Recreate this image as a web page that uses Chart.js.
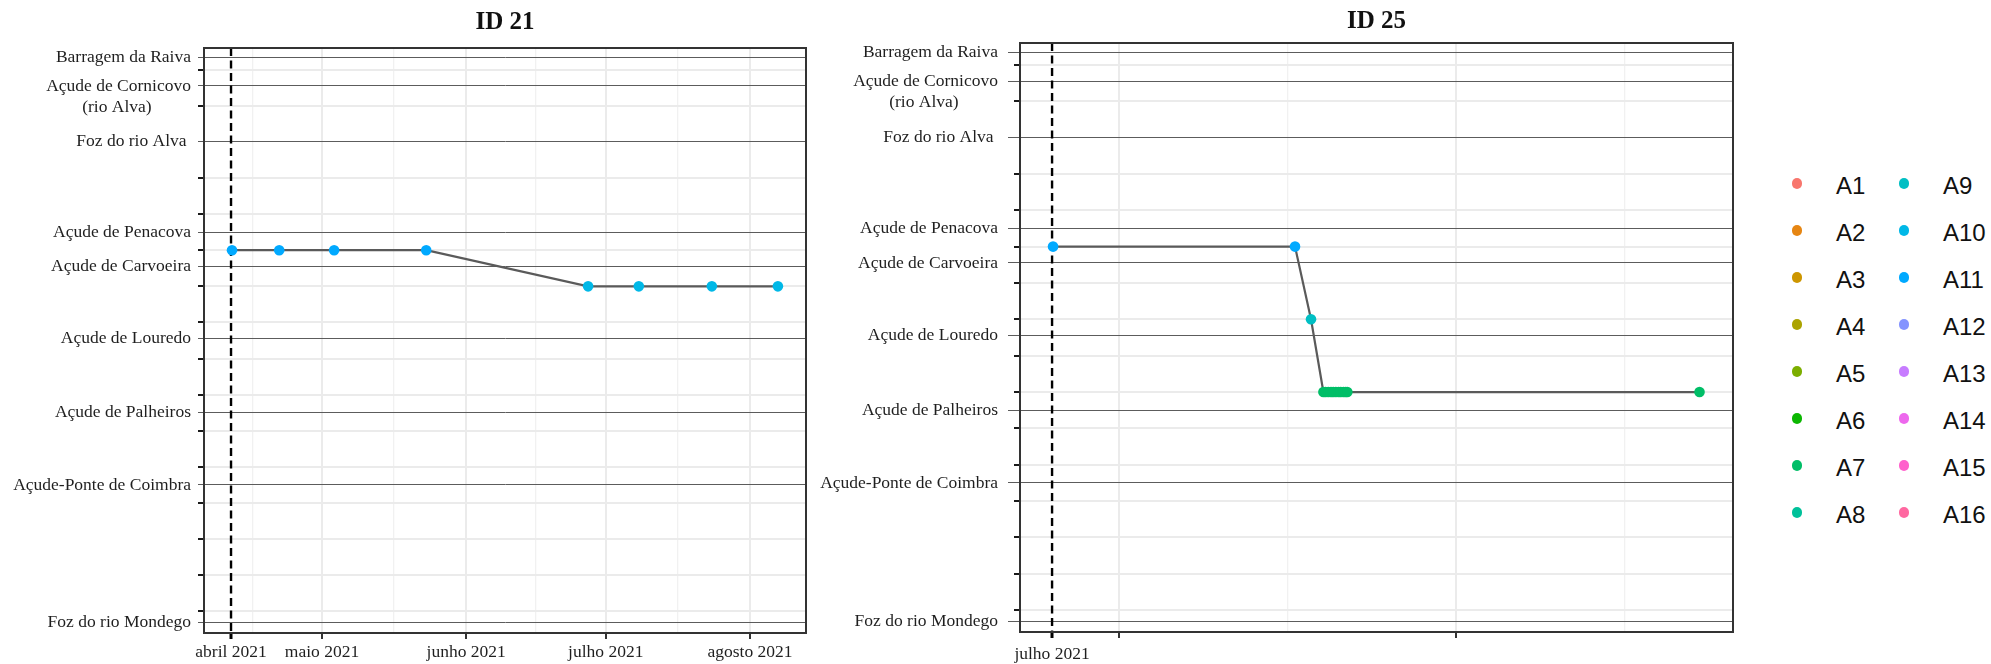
<!DOCTYPE html>
<html>
<head>
<meta charset="utf-8">
<script src="https://cdn.jsdelivr.net/npm/chart.js@4/dist/chart.umd.min.js"></script>
<style>
  html, body { margin: 0; padding: 0; background: #ffffff; overflow: hidden; }
  #wrap { position: relative; width: 1991px; height: 664px; }
  canvas { position: absolute; top: 0; }
  #c21 { left: 0px; }
  #c25 { left: 800px; }
  .legtxt { position: absolute; font-family: 'Liberation Sans', Arial, sans-serif; font-size: 24px; line-height: 24px; color: #111; white-space: nowrap; }
  .legdot { position: absolute; width: 10.6px; height: 10.6px; border-radius: 50%; }
</style>
</head>
<body>
<div id="wrap">
  <canvas id="c21" width="830" height="664"></canvas>
  <canvas id="c25" width="960" height="664"></canvas>
  <div id="legend"></div>
</div>
<script>
// ---------------- data ----------------
const groupNames  = ['A1','A2','A3','A4','A5','A6','A7','A8','A9','A10','A11','A12','A13','A14','A15','A16'];
const groupColors = ['#F8766D','#E68613','#CD9600','#ABA300','#7CAE00','#0CB702','#00BE67','#00C19A',
                     '#00BFC4','#00B8E7','#00A9FF','#8494FF','#C77CFF','#ED68ED','#FF61CC','#FF68A1'];

// antenna positions on the y scale (1..16)
const antennaTicks = [1,2,3,4,5,6,7,8,9,10,11,12,13,14,15,16];

// river sites (reference lines) and their position on the same scale
const siteNames = ['Barragem da Raiva',
                   ['', 'Açude de Cornicovo', '(rio Alva)         '],
                   'Foz do rio Alva ',
                   'Açude de Penacova',
                   'Açude de Carvoeira',
                   'Açude de Louredo',
                   'Açude de Palheiros',
                   'Açude-Ponte de Coimbra',
                   'Foz do rio Mondego'];
const sitePositions = [16.33, 15.55, 14, 11.5, 10.55, 8.55, 6.5, 4.5, 0.7];

// x values: day of year 2021 (1 Jan = 0)
// ID 21
const id21Days    = [100.65, 110.8, 122.6, 142.4, 177.2, 188.1, 203.8, 218.0];
const id21Antenna = [11, 11, 11, 11, 10, 10, 10, 10];
const id21Release = 100.44;
const id21ReleaseLabel = 'abril 2021';
const id21MonthTicks  = [120, 151, 181, 212];
const id21MonthLabels = ['maio 2021', 'junho 2021', 'julho 2021', 'agosto 2021'];
const id21MinorTicks  = [105, 135.5, 166, 196.5];
const id21XRange = [94.63, 224.04];

// ID 25
const id25Days    = [205.93, 228.19, 229.66, 230.8, 231.0, 231.25, 231.5, 231.7, 231.95, 232.2, 232.4, 232.65, 232.85, 233.0, 265.4];
const id25Antenna = [11, 11, 9, 7, 7, 7, 7, 7, 7, 7, 7, 7, 7, 7, 7];
const id25Release = 205.84;
const id25ReleaseLabel = 'julho 2021';
const id25MonthTicks  = [212, 243];
const id25MonthLabels = ['', ''];
const id25MinorTicks  = [227.5, 258.5];
const id25XRange = [202.89, 268.48];

const yRange = [0.4, 16.6];

// ---------------- helpers ----------------
const SERIF = "'Liberation Serif', 'Times New Roman', serif";
const near = (a, b) => Math.abs(a - b) < 1e-6;
const siteIndex = v => sitePositions.findIndex(p => near(p, v));

const boxPlugin = {
  id: 'panelBox',
  afterDatasetsDraw(chart) {
    const {left, top, right, bottom} = chart.chartArea;
    const ctx = chart.ctx;
    ctx.save();
    ctx.strokeStyle = '#333333';
    ctx.lineWidth = 2;
    ctx.strokeRect(left, top, right - left, bottom - top);
    ctx.restore();
  }
};

function makePanel(canvasId, p) {
  const yTickValues = Array.from(new Set(antennaTicks.concat(sitePositions))).sort((a, b) => a - b);
  const xTicks = [{value: p.release, kind: 'release', label: p.releaseLabel}]
    .concat(p.months.map((v, i) => ({value: v, kind: 'major', label: p.monthLabels[i]})))
    .concat(p.minors.map(v => ({value: v, kind: 'minor', label: ''})))
    .sort((a, b) => a.value - b.value);
  const xKind = v => { const t = xTicks.find(t => near(t.value, v)); return t ? t.kind : 'minor'; };
  const xLabel = v => { const t = xTicks.find(t => near(t.value, v)); return t ? t.label : ''; };

  const dashLen = 100;
  const extra = p.siteTickLen - p.intTickLen;

  return new Chart(document.getElementById(canvasId), {
    type: 'line',
    data: {
      datasets: [
        {
          label: p.title,
          data: p.days.map((d, i) => ({x: d, y: p.antenna[i]})),
          borderColor: '#5a5a5a',
          borderWidth: 2.2,
          pointRadius: 5.3,
          pointBorderWidth: 0,
          pointBackgroundColor: p.antenna.map(a => groupColors[a - 1]),
          pointHoverRadius: 5.3,
          tension: 0,
          xAxisID: 'x', yAxisID: 'y'
        },
        {
          label: 'release',
          data: [{x: p.release, y: yRange[1]}, {x: p.release, y: yRange[0]}],
          borderColor: '#000000',
          borderWidth: 2.4,
          borderDash: [8, 4.5],
          pointRadius: 0,
          xAxisID: 'x', yAxisID: 'y'
        }
      ]
    },
    options: {
      responsive: false,
      animation: false,
      devicePixelRatio: 1,
      events: [],
      layout: { padding: { left: 0, right: p.padRight, top: 0, bottom: 0 } },
      plugins: { legend: { display: false }, title: { display: false }, tooltip: { enabled: false } },
      scales: {
        x: {
          type: 'linear', position: 'bottom',
          min: p.xRange[0], max: p.xRange[1],
          afterBuildTicks: s => { s.ticks = xTicks.map(t => ({value: t.value})); },
          afterFit: s => { s.height = p.bottomH; },
          ticks: {
            autoSkip: false, maxRotation: 0, minRotation: 0, padding: p.xLabelPad,
            font: { family: SERIF, size: 17.5 }, color: '#1f1f1f',
            callback: v => xLabel(v)
          },
          grid: {
            drawTicks: true, tickLength: 6,
            color: c => { if (!c.tick) return '#EBEBEB'; const k = xKind(c.tick.value); return k === 'release' ? 'rgba(0,0,0,0)' : (k === 'major' ? '#EBEBEB' : '#F1F1F1'); },
            lineWidth: c => { if (!c.tick) return 2; const k = xKind(c.tick.value); return k === 'major' ? 2 : (k === 'minor' ? 1.3 : 0); },
            tickColor: c => { if (!c.tick) return '#333'; const k = xKind(c.tick.value); return k === 'release' ? '#000000' : '#333333'; },
            tickWidth: c => { if (!c.tick) return 2; const k = xKind(c.tick.value); return k === 'release' ? 3 : (k === 'major' ? 2 : 0); }
          },
          border: { display: true, color: '#222222', width: 2 }
        },
        xTitle: {
          type: 'linear', position: 'top', display: true,
          min: p.xRange[0], max: p.xRange[1],
          afterFit: s => { s.height = p.topH; },
          ticks: { display: false },
          grid: { display: false, drawTicks: false },
          border: { display: false },
          title: {
            display: true, text: p.title, color: '#111111',
            font: { family: SERIF, size: 25, weight: 'bold' },
            padding: { top: p.titlePadTop, bottom: 0 }
          }
        },
        y: {
          type: 'linear', position: 'left',
          min: yRange[0], max: yRange[1],
          afterBuildTicks: s => { s.ticks = yTickValues.map(v => ({value: v})); },
          afterFit: s => { s.width = p.yAxisW; },
          ticks: {
            autoSkip: false, padding: p.yLabelPad,
            font: { family: SERIF, size: 17.5, lineHeight: 1.2 }, color: '#1f1f1f',
            callback: v => { const i = siteIndex(v); return i >= 0 ? siteNames[i] : ''; }
          },
          grid: {
            drawTicks: true, tickLength: p.siteTickLen,
            color: c => (c.tick && siteIndex(c.tick.value) >= 0) ? '#5c5c5c' : '#EBEBEB',
            lineWidth: c => (c.tick && siteIndex(c.tick.value) >= 0) ? 1 : 2,
            tickColor: c => (c.tick && siteIndex(c.tick.value) >= 0) ? '#5c5c5c' : '#1a1a1a',
            tickWidth: c => (c.tick && siteIndex(c.tick.value) >= 0) ? 1 : 2,
            tickBorderDash: c => (c.tick && siteIndex(c.tick.value) < 0 && extra > 0) ? [p.intTickLen, dashLen] : [],
            tickBorderDashOffset: c => (c.tick && siteIndex(c.tick.value) < 0 && extra > 0) ? (p.intTickLen + dashLen - extra) : 0
          },
          border: { display: true, color: '#222222', width: 2 }
        }
      }
    },
    plugins: [boxPlugin]
  });
}

makePanel('c21', {
  title: 'ID 21', days: id21Days, antenna: id21Antenna,
  release: id21Release, releaseLabel: id21ReleaseLabel,
  months: id21MonthTicks, monthLabels: id21MonthLabels, minors: id21MinorTicks,
  xRange: id21XRange,
  yAxisW: 204, padRight: 24, topH: 48, titlePadTop: 8, bottomH: 31,
  siteTickLen: 6, intTickLen: 6, yLabelPad: 7, xLabelPad: 3
});

makePanel('c25', {
  title: 'ID 25', days: id25Days, antenna: id25Antenna,
  release: id25Release, releaseLabel: id25ReleaseLabel,
  months: id25MonthTicks, monthLabels: id25MonthLabels, minors: id25MinorTicks,
  xRange: id25XRange,
  yAxisW: 220, padRight: 27, topH: 43, titlePadTop: 7, bottomH: 32,
  siteTickLen: 12, intTickLen: 6, yLabelPad: 10, xLabelPad: 6
});

// ---------------- legend ----------------
const legend = document.getElementById('legend');
groupNames.forEach((name, i) => {
  const col = Math.floor(i / 8), row = i % 8;
  const cy = 183.3 + row * 47;
  const dotX = col ? 1904 : 1797;
  const textX = col ? 1943 : 1836;
  const dot = document.createElement('div');
  dot.className = 'legdot';
  dot.style.left = (dotX - 5.3) + 'px';
  dot.style.top = (cy - 5.3) + 'px';
  dot.style.background = groupColors[i];
  legend.appendChild(dot);
  const t = document.createElement('div');
  t.className = 'legtxt';
  t.style.left = textX + 'px';
  t.style.top = (cy - 9.5) + 'px';
  t.textContent = name;
  legend.appendChild(t);
});
</script>
</body>
</html>
